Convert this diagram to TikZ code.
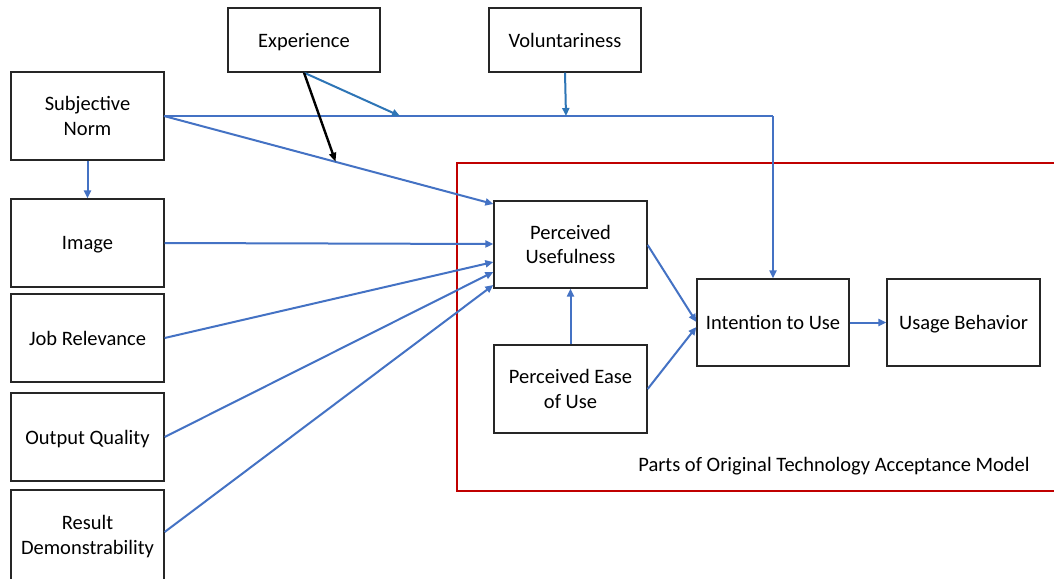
\documentclass[tikz,border=0pt]{standalone}
\usepackage{fontspec}
\setmainfont{Carlito}
\usetikzlibrary{arrows.meta,calc}
\definecolor{tamblue}{HTML}{4472C4}
\definecolor{tamblue2}{HTML}{2E75B6}
\definecolor{tamred}{HTML}{C00000}
\tikzset{
  box/.style={draw=black!85, line width=1.3pt, fill=white, inner sep=0pt, align=center,
    text depth=0pt, font=\fontsize{20.5}{24.5}\selectfont},
  wide/.style={box, minimum width=153, minimum height=88},
  topbox/.style={box, minimum width=152, minimum height=64},
  arr/.style={draw=tamblue, line width=2pt, -{Triangle[length=8,width=7]}},
  ln/.style={draw=tamblue, line width=2pt},
}
\begin{document}
\begin{tikzpicture}[x=1pt,y=-1pt]
\clip (0,0) rectangle (1054,578);
\fill[white] (0,0) rectangle (1054,578);
% red frame
\draw[tamred, line width=2.8pt] (457,163) rectangle (1075,491);
\node[font=\fontsize{20.5}{24.5}\selectfont, anchor=center] (lbl) at (834,466) {Parts of Original Technology Acceptance Model};
% nodes
\node[topbox] (exp) at (304,40) {Experience};
\node[topbox] (vol) at (565,40) {Voluntariness};
\node[wide] (sn) at (87.5,116) {Subjective\\Norm};
\node[wide] (img) at (87.5,243) {Image};
\node[wide] (job) at (87.5,338) {Job Relevance};
\node[wide] (out) at (87.5,437) {Output Quality};
\node[wide, minimum height=100] (res) at (87.5,540) {};
\node[font=\fontsize{20.5}{24.5}\selectfont, align=center, text depth=0pt] (restxt) at (87.5,535) {Result\\Demonstrability};
\node[wide, minimum height=87] (pu) at (570.5,244.5) {Perceived\\Usefulness};
\node[wide] (peou) at (570.5,389) {Perceived Ease\\of Use};
\node[wide, minimum width=152, minimum height=87] (itu) at (773,322.5) {Intention to Use};
\node[wide, minimum height=87] (ub) at (963.5,322.5) {Usage Behavior};
% coordinates
\coordinate (snE) at (164,116);
\coordinate (corner) at (773,116);
\coordinate (hexp) at (400,116);
\coordinate (hvol) at (566,116);
\coordinate (onpu) at ($(snE)!0.52!(494,204)$);
% connectors
\draw[arr] (sn.south) -- (img.north);
\draw[ln] (snE) -- (corner);
\draw[arr] (corner) -- (itu.north);
\draw[arr] (snE) -- (pu.north west |- 0,204) ;
\draw[arr] (img.east) -- (pu.west |- 0,244);
\draw[arr] (job.east) -- (pu.west |- 0,262);
\draw[arr] (out.east) -- (pu.west |- 0,272);
\draw[arr] (res.east |- 0,532) -- (pu.west |- 0,285);
\draw[arr] (pu.east |- 0,245) -- (itu.west |- 0,322);
\draw[arr] (peou.east |- 0,389) -- (itu.west |- 0,327);
\draw[arr] (peou.north) -- (pu.south);
\draw[arr] (itu.east) -- (ub.west);
\draw[draw=tamblue2, line width=2pt, -{Triangle[length=8,width=7]}] (exp.south) -- (hexp);
\draw[draw=tamblue2, line width=2pt, -{Triangle[length=8,width=7]}] (vol.south) -- (hvol);
\draw[draw=black, line width=2.4pt, -{Triangle[length=9,width=7]}] (exp.south) -- (onpu);
\end{tikzpicture}
\end{document}
